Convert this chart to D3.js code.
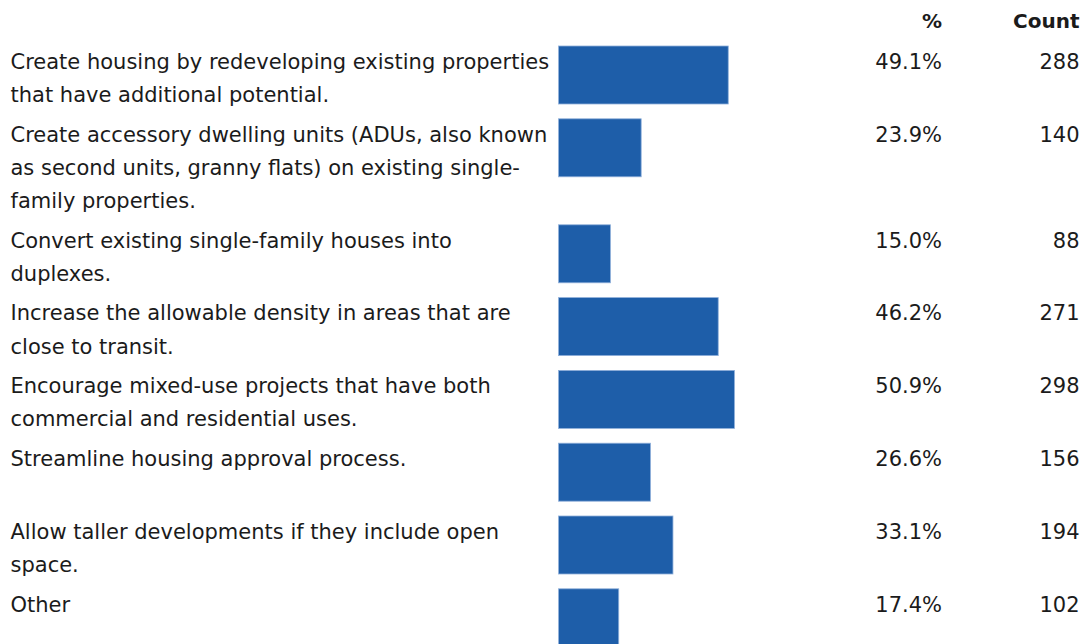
<!DOCTYPE html>
<html>
<head>
<meta charset="utf-8">
<script src="https://cdn.jsdelivr.net/npm/d3@7"></script>
<style>
  html, body { margin: 0; padding: 0; background: #fff; overflow: hidden; }
  svg { display: block; }
  text { font-family: "DejaVu Sans", sans-serif; fill: #1b1b1b; }
</style>
</head>
<body>
<svg id="chart" width="1084" height="644"></svg>
<script>
// Survey answers (line breaks mark where each label wraps)
const categories = [
  "Create housing by redeveloping existing properties\nthat have additional potential.",
  "Create accessory dwelling units (ADUs, also known\nas second units, granny flats) on existing single-\nfamily properties.",
  "Convert existing single-family houses into\nduplexes.",
  "Increase the allowable density in areas that are\nclose to transit.",
  "Encourage mixed-use projects that have both\ncommercial and residential uses.",
  "Streamline housing approval process.",
  "Allow taller developments if they include open\nspace.",
  "Other"
];
const percents = [49.1, 23.9, 15.0, 46.2, 50.9, 26.6, 33.1, 17.4];
const counts = [288, 140, 88, 271, 298, 156, 194, 102];
const columnHeaders = ["%", "Count"];

const svg = d3.select("#chart");

const labelX = 10.5;
const pctRight = 942;
const countRight = 1079.5;
const firstRowTop = 46;
const lineStep = 33.2;
const barHeight = 58;
const baselineOffset = 22.8;

const rows = categories.map((c, i) => ({
  lines: c.split("\n"),
  pct: percents[i],
  count: counts[i]
}));

// Each row is tall enough for at least two label lines
let rowY = firstRowTop;
rows.forEach(r => {
  r.y = rowY;
  r.height = 6.4 + Math.max(2, r.lines.length) * lineStep;
  rowY += r.height;
});

const x = d3.scaleLinear().domain([0, 100]).range([558.6, 558.6 + 345.5]);
const fmtPct = d => d3.format(".1f")(d) + "%";

// Column headers
svg.append("text")
  .attr("x", pctRight).attr("y", 28)
  .attr("text-anchor", "end")
  .style("font-weight", "bold").style("font-size", "20px")
  .text(columnHeaders[0]);
svg.append("text")
  .attr("x", countRight).attr("y", 28)
  .attr("text-anchor", "end")
  .style("font-weight", "bold").style("font-size", "20px")
  .text(columnHeaders[1]);

const g = svg.selectAll("g.row").data(rows).join("g")
  .attr("class", "row")
  .attr("transform", d => `translate(0,${d.y})`);

// Wrapped labels
g.append("text")
  .attr("x", labelX)
  .attr("y", baselineOffset)
  .style("font-size", "21px")
  .selectAll("tspan").data(d => d.lines).join("tspan")
  .attr("x", labelX)
  .attr("dy", (d, i) => i === 0 ? 0 : lineStep)
  .text(d => d);

// Bars
g.append("rect")
  .attr("x", x(0))
  .attr("y", 0)
  .attr("width", d => x(d.pct) - x(0))
  .attr("height", barHeight)
  .attr("fill", "#1e5ea9")
  .attr("stroke", "#8fb0da")
  .attr("stroke-width", 0.8);

// Percent column
g.append("text")
  .attr("x", pctRight)
  .attr("y", baselineOffset)
  .attr("text-anchor", "end")
  .style("font-size", "21px")
  .text(d => fmtPct(d.pct));

// Count column
g.append("text")
  .attr("x", countRight)
  .attr("y", baselineOffset)
  .attr("text-anchor", "end")
  .style("font-size", "21px")
  .text(d => d.count);
</script>
</body>
</html>
